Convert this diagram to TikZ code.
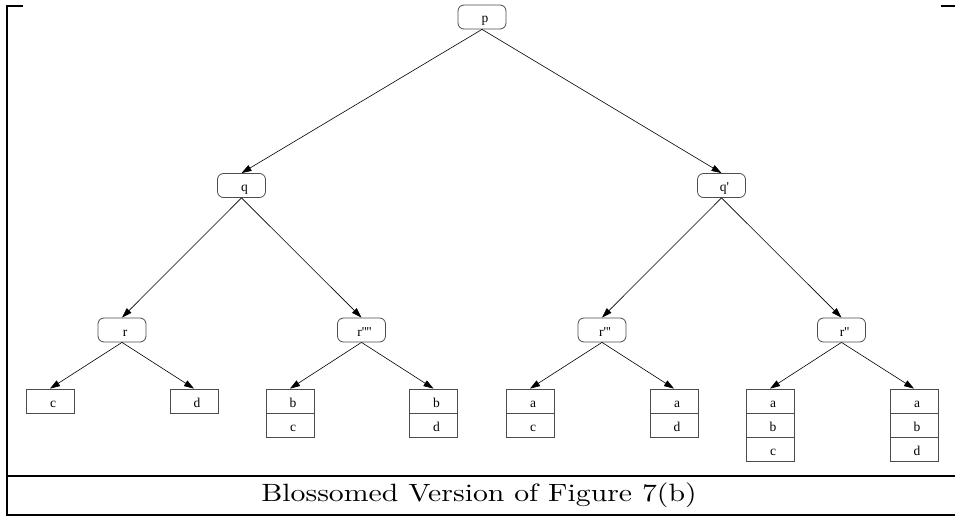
\documentclass[tikz,border=0pt]{standalone}
\usepackage{fontspec}
\usepackage{graphicx}
\newfontfamily\nodefont{Liberation Serif}
\newfontfamily\capfont{lmroman10-regular.otf}
\usetikzlibrary{arrows.meta}
\begin{document}
\begin{tikzpicture}[x=1pt,y=-1pt,
  boxtext/.style={inner sep=0pt,minimum width=48pt,minimum height=24pt,text height=12pt,text depth=0pt,font=\nodefont\fontsize{13.5}{14}\selectfont,execute at begin node=\hspace*{6pt}},
  inner/.style={boxtext,draw=black!70,line width=0.8pt,rounded corners=6pt},
  leaf/.style={boxtext,draw=black!70,line width=0.8pt},
  edge/.style={line width=0.6pt,-{Triangle[length=10pt,width=6.5pt]}},
  frameline/.style={line width=2pt}]
\useasboundingbox (0,0) rectangle (955,516);
% frame
\draw[frameline] (23,5.7) -- (7,5.7) -- (7,516);
\draw[frameline] (941,5.7) -- (955,5.7);
\draw[frameline] (7,475.5) -- (955,475.5);
\draw[line width=1.4pt] (7,515) -- (955,515);
\node[font=\capfont\fontsize{25}{30}\selectfont] (cap) at (479,495) {\scalebox{1.19}[1]{Blossomed Version of Figure 7(b)}};
% internal nodes
\node[inner] (p) at (482,17) {p};
\node[inner] (q) at (241.5,185.5) {q};
\node[inner] (qp) at (721.5,185.5) {q'};
\node[inner] (r) at (122,330) {r};
\node[inner] (r4) at (361.5,330) {r''''};
\node[inner] (r3) at (602,330) {r'''};
\node[inner] (r2) at (841.5,330) {r''};
% leaves
\node[leaf] (c) at (50,401) {c};
\node[leaf] (d) at (194,401) {d};
\node[leaf] (bc1) at (290,401) {b};
\node[leaf] (bc2) at (290,425) {c};
\node[leaf] (bd1) at (433.5,401) {b};
\node[leaf] (bd2) at (433.5,425) {d};
\node[leaf] (ac1) at (530,401) {a};
\node[leaf] (ac2) at (530,425) {c};
\node[leaf] (ad1) at (674,401) {a};
\node[leaf] (ad2) at (674,425) {d};
\node[leaf] (abc1) at (770,401) {a};
\node[leaf] (abc2) at (770,425) {b};
\node[leaf] (abc3) at (770,449) {c};
\node[leaf] (abd1) at (914,401) {a};
\node[leaf] (abd2) at (914,425) {b};
\node[leaf] (abd3) at (914,449) {d};
% edges
\draw[edge] (p.south) -- (q.north);
\draw[edge] (p.south) -- (qp.north);
\draw[edge] (q.south) -- (r.north);
\draw[edge] (q.south) -- (r4.north);
\draw[edge] (qp.south) -- (r3.north);
\draw[edge] (qp.south) -- (r2.north);
\draw[edge] (r.south) -- (c.north);
\draw[edge] (r.south) -- (d.north);
\draw[edge] (r4.south) -- (bc1.north);
\draw[edge] (r4.south) -- (bd1.north);
\draw[edge] (r3.south) -- (ac1.north);
\draw[edge] (r3.south) -- (ad1.north);
\draw[edge] (r2.south) -- (abc1.north);
\draw[edge] (r2.south) -- (abd1.north);
\end{tikzpicture}
\end{document}
